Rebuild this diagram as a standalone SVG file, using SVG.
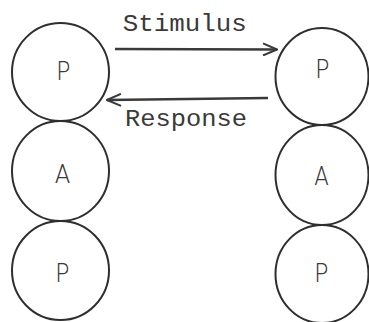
<svg xmlns="http://www.w3.org/2000/svg" width="369" height="322" viewBox="0 0 369 322">
<style>
.node ellipse{fill:none;stroke:#2e2e2e;stroke-width:2}
.lbl{font-family:Roboto,"Liberation Sans",Arial,sans-serif;font-weight:300;font-size:26px;fill:#3a3a3a;text-anchor:middle}
.edge{stroke:#3a3a3a;stroke-width:2.5;fill:none}
.elbl{font-family:"Liberation Mono","DejaVu Sans Mono",monospace;font-size:24px;fill:#3a3a3a}
</style>
<defs>
<marker id="arr" viewBox="0 0 16 14" refX="15" refY="7" markerWidth="16" markerHeight="14" orient="auto" markerUnits="userSpaceOnUse">
<path d="M1,1 L15,7 L1,13" fill="none" stroke="#3a3a3a" stroke-width="2"/>
</marker>
</defs>
<rect width="369" height="322" fill="#ffffff"/>
<g id="L1" class="node"><ellipse cx="60.5" cy="72" rx="48.5" ry="49"/><text class="lbl" x="63.5" y="80" textLength="13" lengthAdjust="spacingAndGlyphs">P</text></g>
<g id="L2" class="node"><ellipse cx="60.5" cy="171" rx="48.5" ry="50"/><text class="lbl" x="62.5" y="183" textLength="15" lengthAdjust="spacingAndGlyphs">A</text></g>
<g id="L3" class="node"><ellipse cx="60.5" cy="270.5" rx="48.5" ry="49.5"/><text class="lbl" x="62.5" y="282" textLength="13" lengthAdjust="spacingAndGlyphs">P</text></g>
<g id="R1" class="node"><ellipse cx="322" cy="76.5" rx="46.5" ry="48.5"/><text class="lbl" x="322.5" y="78" textLength="13" lengthAdjust="spacingAndGlyphs">P</text></g>
<g id="R2" class="node"><ellipse cx="322" cy="175" rx="46.5" ry="50"/><text class="lbl" x="321.5" y="185" textLength="14" lengthAdjust="spacingAndGlyphs">A</text></g>
<g id="R3" class="node"><ellipse cx="322" cy="274" rx="46.5" ry="49"/><text class="lbl" x="321.5" y="282" textLength="13" lengthAdjust="spacingAndGlyphs">P</text></g>
<g id="connectors">
<line class="edge" x1="115" y1="49" x2="277" y2="49.5" marker-end="url(#arr)"/>
<text class="elbl" x="122.7" y="31" textLength="124" lengthAdjust="spacingAndGlyphs">Stimulus</text>
<line class="edge" x1="268" y1="98" x2="107" y2="100" marker-end="url(#arr)"/>
<text class="elbl" x="125" y="126" textLength="122" lengthAdjust="spacingAndGlyphs">Response</text>
</g>
</svg>
